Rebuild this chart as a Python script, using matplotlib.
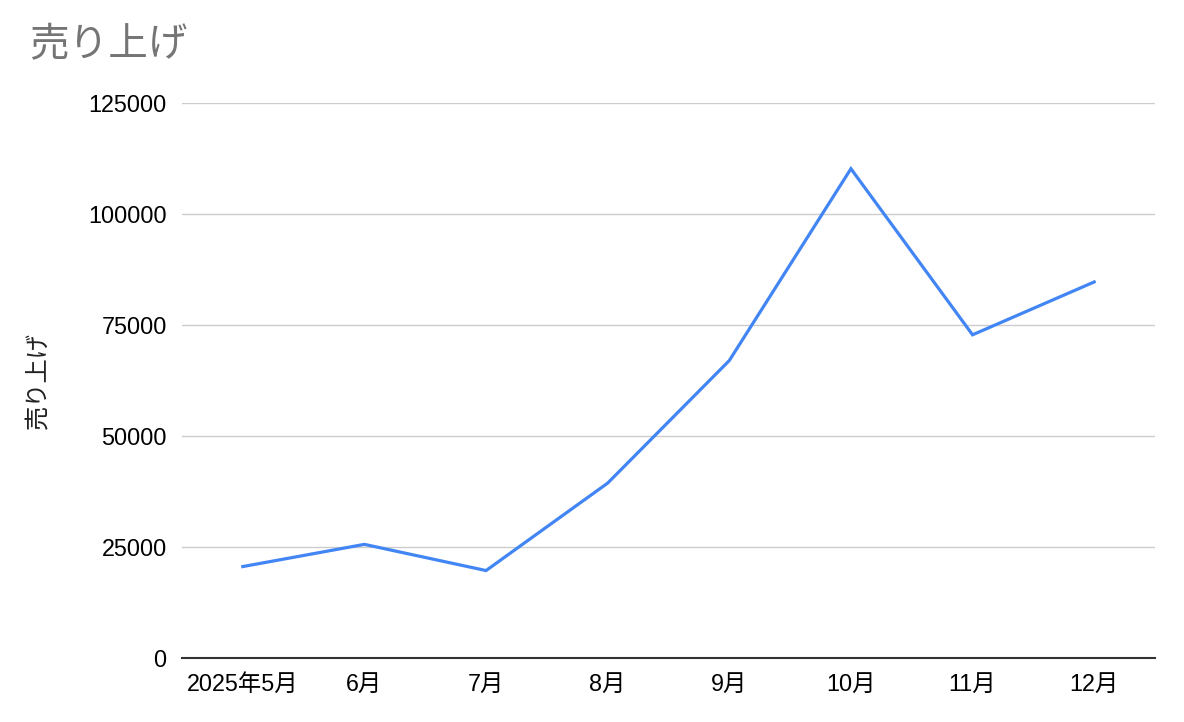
import matplotlib
matplotlib.use("Agg")
import matplotlib.pyplot as plt

plt.rcParams["font.family"] = ["Liberation Sans", "Noto Sans CJK JP", "DejaVu Sans"]

months = ["2025年5月", "6月", "7月", "8月", "9月", "10月", "11月", "12月"]
sales = [20600, 25600, 19700, 39400, 67000, 110200, 72800, 84700]
y_ticks = [0, 25000, 50000, 75000, 100000, 125000]

fig = plt.figure(figsize=(11.84, 7.22), dpi=100)
ax = fig.add_axes([0.1537, 0.0886, 0.8218, 0.7687])

x = range(len(months))
ax.plot(x, sales, color="#4285F4", linewidth=2.3, solid_joinstyle="miter")

ax.set_xlim(-0.5, len(months) - 0.5)
ax.set_ylim(0, 125000)
ax.set_xticks(list(x))
ax.set_xticklabels(months)
ax.set_yticks(y_ticks)
ax.set_yticklabels([str(v) for v in y_ticks])

ax.grid(axis="y", color="#cccccc", linewidth=1.0)
ax.set_axisbelow(True)
for side in ["top", "right", "left"]:
    ax.spines[side].set_visible(False)
ax.spines["bottom"].set_color("#333333")
ax.spines["bottom"].set_linewidth(1.5)
ax.spines["bottom"].set_zorder(3)

ax.tick_params(axis="both", length=0, labelsize=16.8, colors="#000000")
ax.tick_params(axis="y", pad=11)
ax.tick_params(axis="x", pad=11)

ax.set_ylabel("売り上げ", fontsize=17.5, color="#222222", labelpad=27)

fig.text(0.025, 0.937, "売り上げ", fontsize=28.5, color="#757575", va="center", ha="left")

fig.savefig("out.png", dpi=100, facecolor="white")
